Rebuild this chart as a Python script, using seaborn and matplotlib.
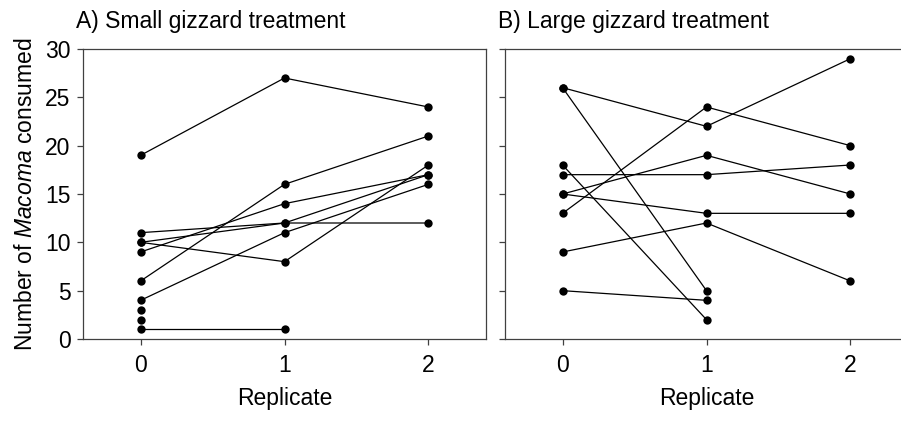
import numpy as np
import pandas as pd
import matplotlib
matplotlib.use("Agg")
import matplotlib.pyplot as plt
import seaborn as sns

# Macoma consumed per bird, by replicate (NaN = no trial)
replicates = [0, 1, 2]

small_birds = {
    "s1": [19, 27, 24],
    "s2": [6, 16, 21],
    "s3": [9, 14, 17],
    "s4": [11, 12, 12],
    "s5": [10, 12, 17],
    "s6": [10, 8, 18],
    "s7": [4, 11, 16],
    "s8": [1, 1, np.nan],
    "s9": [3, np.nan, np.nan],
    "s10": [2, np.nan, np.nan],
}

large_birds = {
    "l1": [26, 22, 29],
    "l2": [26, 5, np.nan],
    "l3": [18, 2, np.nan],
    "l4": [17, 17, 18],
    "l5": [15, 19, 15],
    "l6": [15, 13, 13],
    "l7": [13, 24, 20],
    "l8": [9, 12, 6],
    "l9": [5, 4, np.nan],
}

panel_titles = ["A) Small gizzard treatment", "B) Large gizzard treatment"]
y_ticks = [0, 5, 10, 15, 20, 25, 30]


def to_long(birds):
    rows = []
    for bird, vals in birds.items():
        for rep, v in zip(replicates, vals):
            if not np.isnan(v):
                rows.append({"bird": bird, "Replicate": rep, "count": v})
    return pd.DataFrame(rows)


sns.set_style("ticks")
plt.rcParams["font.family"] = ["Liberation Sans", "DejaVu Sans"]
plt.rcParams["mathtext.fontset"] = "custom"
plt.rcParams["mathtext.rm"] = "Liberation Sans"
plt.rcParams["mathtext.it"] = "Liberation Sans:italic"
plt.rcParams["text.color"] = "black"
plt.rcParams["axes.labelcolor"] = "black"
plt.rcParams["xtick.labelcolor"] = "black"
plt.rcParams["ytick.labelcolor"] = "black"
fs = 16.5
spine_col = "#404040"

fig = plt.figure(figsize=(9.01, 4.22), dpi=100)
axA = fig.add_axes([83 / 901, 83 / 422, 403 / 901, 290 / 422])
axB = fig.add_axes([505 / 901, 83 / 422, 403 / 901, 290 / 422])

for ax, birds, title in zip([axA, axB], [small_birds, large_birds], panel_titles):
    df = to_long(birds)
    sns.lineplot(data=df, x="Replicate", y="count", units="bird", estimator=None,
                 color="black", linewidth=0.9, marker="o", markersize=6,
                 markeredgewidth=0, ax=ax, legend=False)
    ax.set_xlim(-0.4, 2.4)
    ax.set_ylim(0, 30)
    ax.set_xticks(replicates)
    ax.set_yticks(y_ticks)
    ax.set_xlabel("Replicate", fontsize=fs, labelpad=7)
    ax.tick_params(axis="x", labelsize=fs, length=4, width=0.9, color=spine_col,
                   labelcolor="black", pad=7)
    ax.tick_params(axis="y", labelsize=fs, length=4, width=0.9, color=spine_col,
                   labelcolor="black", pad=5)
    for s in ax.spines.values():
        s.set_visible(True)
        s.set_color(spine_col)
        s.set_linewidth(0.9)
    ax.text(-0.018, 1.072, title, transform=ax.transAxes, fontsize=fs,
            color="black", ha="left", va="baseline")

axA.set_ylabel("Number of $\\it{Macoma}$ consumed", fontsize=fs, labelpad=6,
               color="black")
axB.set_ylabel("")
axB.set_yticklabels([])

fig.savefig("out.png", dpi=100)
